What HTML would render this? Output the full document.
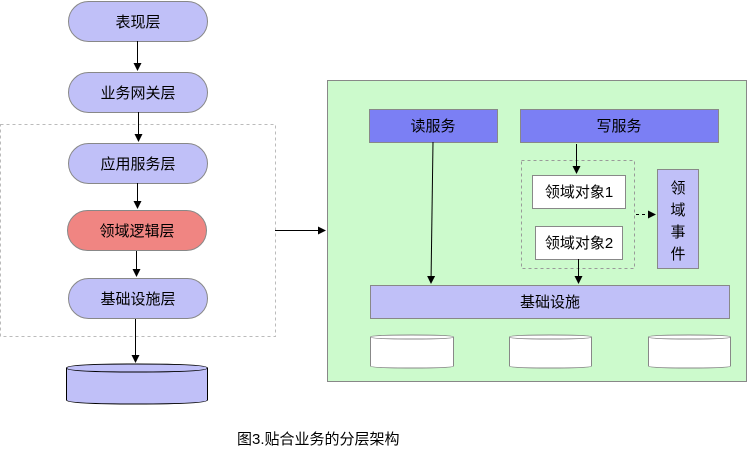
<!DOCTYPE html>
<html><head><meta charset="utf-8"><style>
body{margin:0;background:#fff;}
svg text{font-family:"Liberation Sans","Noto Sans CJK SC",sans-serif;font-size:15px;fill:#000;}
</style></head><body>
<svg width="747" height="454" xmlns="http://www.w3.org/2000/svg">
<defs><marker id="a" markerWidth="8" markerHeight="8" refX="7" refY="4" orient="auto" markerUnits="userSpaceOnUse"><path d="M0,0 L8,4 L0,8 z" fill="#000"/></marker></defs>
<rect x="0.5" y="124.5" width="275" height="212" fill="none" stroke="#bbb" stroke-dasharray="3,3"/>
<g fill="#c0c0f8" stroke="#888">
<rect x="68.5" y="1.5" width="139" height="40" rx="20"/>
<rect x="68.5" y="72.5" width="139" height="40" rx="20"/>
<rect x="68.5" y="143.5" width="139" height="40" rx="20"/>
<rect x="67.5" y="210.5" width="139" height="40" rx="20" fill="#f08582"/>
<rect x="68.5" y="278.5" width="139" height="40" rx="20"/>
</g>
<g text-anchor="middle">
<text x="138" y="27">表现层</text><text x="138" y="98">业务网关层</text><text x="138" y="169">应用服务层</text><text x="137" y="236">领域逻辑层</text><text x="138" y="304">基础设施层</text>
</g>
<g stroke="#000" marker-end="url(#a)">
<line x1="137.5" y1="41" x2="137.5" y2="70"/><line x1="138.5" y1="112" x2="138.5" y2="141"/><line x1="137.5" y1="183" x2="137.5" y2="208"/><line x1="136.5" y1="251" x2="136.5" y2="276"/><line x1="135.5" y1="319" x2="135.5" y2="362"/>
<line x1="275" y1="230.5" x2="325" y2="230.5"/>
</g>
<path d="M66.5,368 Q66.5,364 136,364 Q207.5,364 207.5,368 L207.5,400 Q207.5,404 136,404 Q66.5,404 66.5,400 Z" fill="#c0c0f8" stroke="#000"/>
<path d="M66.5,368 Q66.5,372 136,372 Q207.5,372 207.5,368" fill="none" stroke="#000"/>
<rect x="327.5" y="80.5" width="419" height="301" fill="#ccfacc" stroke="#888"/>
<rect x="369.5" y="109.5" width="128" height="33" fill="#7b7ff4" stroke="#888"/>
<rect x="520.5" y="109.5" width="198" height="33" fill="#7b7ff4" stroke="#888"/>
<text x="433" y="131" text-anchor="middle">读服务</text><text x="619" y="131" text-anchor="middle">写服务</text>
<rect x="521.5" y="160.5" width="113" height="108" fill="none" stroke="#999" stroke-dasharray="3,3"/>
<rect x="532.5" y="175.5" width="93" height="33" fill="#fff" stroke="#888"/>
<rect x="535.5" y="226.5" width="87" height="33" fill="#fff" stroke="#888"/>
<text x="579" y="197" text-anchor="middle">领域对象1</text><text x="579" y="248" text-anchor="middle">领域对象2</text>
<rect x="657.5" y="169.5" width="41" height="99" fill="#c0c0f8" stroke="#888"/>
<g text-anchor="middle"><text x="678" y="193">领</text><text x="678" y="215">域</text><text x="678" y="237">事</text><text x="678" y="259">件</text></g>
<rect x="370.5" y="285.5" width="359" height="33" fill="#c0c0f8" stroke="#888"/>
<text x="550" y="307" text-anchor="middle">基础设施</text>
<g stroke="#000" marker-end="url(#a)">
<line x1="433" y1="142" x2="431" y2="283"/><line x1="576.5" y1="144" x2="576.5" y2="173"/><line x1="578.5" y1="259" x2="578.5" y2="283"/>
<line x1="636" y1="214.5" x2="655" y2="214.5" stroke-dasharray="3,3"/>
</g>
<g fill="#fff" stroke="#888">
<path d="M370.5,337 Q370.5,335 412,335 Q453.5,335 453.5,337 L453.5,366 Q453.5,368 412,368 Q370.5,368 370.5,366 Z"/>
<path d="M509.5,337 Q509.5,335 550,335 Q591.5,335 591.5,337 L591.5,366 Q591.5,368 550,368 Q509.5,368 509.5,366 Z"/>
<path d="M648.5,337 Q648.5,335 689,335 Q730.5,335 730.5,337 L730.5,366 Q730.5,368 689,368 Q648.5,368 648.5,366 Z"/>
<path d="M370.5,337 Q370.5,339 412,339 Q453.5,339 453.5,337 M509.5,337 Q509.5,339 550,339 Q591.5,339 591.5,337 M648.5,337 Q648.5,339 689,339 Q730.5,339 730.5,337" fill="none"/>
</g>
<text x="237" y="444">图3.贴合业务的分层架构</text>
</svg>
</body></html>
